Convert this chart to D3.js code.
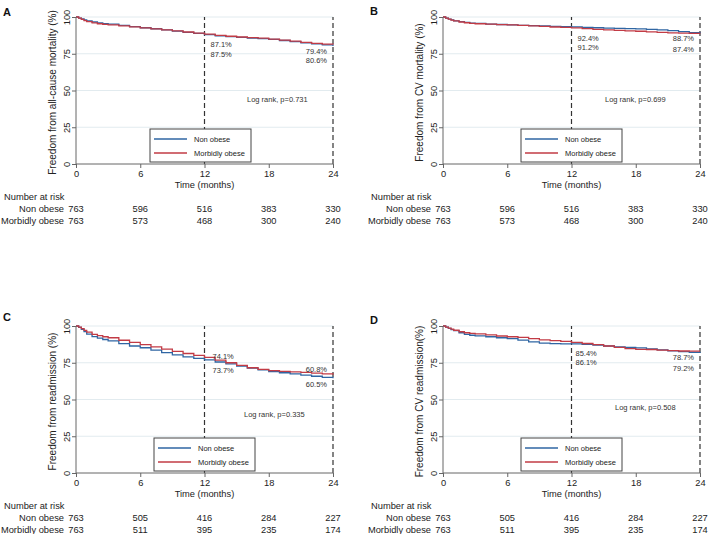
<!DOCTYPE html>
<html>
<head>
<meta charset="utf-8">
<script src="https://cdn.jsdelivr.net/npm/d3@7"></script>
<style>
  body { margin: 0; background: #fff; }
  svg { display: block; font-family: "Liberation Sans", Arial, sans-serif; }
  .axis path, .axis line { stroke: #666; }
  .axis text { fill: #222; font-size: 9.3px; }
</style>
</head>
<body>
<svg id="fig" width="709" height="534"></svg>
<script>
// time grid (months) shared by all curves
const times = [0, 0.25, 0.5, 0.75, 1, 1.5, 2, 2.5, 3, 4, 5, 6, 7, 8, 9, 10, 11, 12,
  13, 14, 15, 16, 17, 18, 19, 20, 21, 22, 23, 24];

// survival (%) per panel
const allCauseNonObese = [100, 99.3, 98.7, 98.0, 97.4, 96.6, 96.0, 95.5, 95.1, 94.3, 93.5, 92.7, 92.0, 91.2, 90.4,
  89.6, 88.8, 88.0, 87.2, 86.6, 86.1, 85.7, 85.3, 84.8, 84.0, 83.3, 82.5, 81.7, 81.0, 80.3];
const allCauseMorbid = [100, 99.2, 98.4, 97.6, 96.9, 96.0, 95.4, 95.0, 94.6, 93.9, 93.3, 92.6, 91.9, 91.2, 90.5,
  89.8, 89.0, 88.3, 87.5, 86.9, 86.4, 86.0, 85.6, 85.0, 84.3, 83.6, 82.8, 82.1, 81.5, 81.2];
const cvMortNonObese = [100, 99.3, 98.6, 98.0, 97.4, 96.8, 96.3, 95.9, 95.6, 95.2, 94.9, 94.6, 94.3, 94.1, 93.9,
  93.6, 93.4, 93.3, 93.0, 92.7, 92.5, 92.3, 92.1, 91.9, 91.6, 91.3, 90.7, 90.0, 89.4, 88.9];
const cvMortMorbid = [100, 99.2, 98.5, 97.9, 97.3, 96.6, 96.1, 95.7, 95.4, 95.1, 94.8, 94.6, 94.3, 94.0, 93.6,
  93.2, 92.9, 92.6, 92.1, 91.6, 91.2, 90.9, 90.6, 90.3, 89.9, 89.5, 89.2, 89.0, 88.9, 88.7];
const readmNonObese = [100, 99.0, 97.8, 96.2, 94.5, 92.8, 91.8, 90.8, 89.9, 88.0, 86.4, 85.2, 83.6, 81.9, 80.3,
  79.0, 78.0, 76.9, 75.5, 74.2, 72.8, 71.4, 70.2, 69.0, 68.2, 67.4, 66.6, 65.8, 65.1, 64.4];
const readmMorbid = [100, 99.2, 98.2, 97.0, 95.8, 94.3, 93.5, 92.7, 92.0, 90.3, 88.8, 87.3, 85.8, 84.3, 82.8,
  81.3, 80.0, 78.6, 76.8, 75.0, 73.2, 71.6, 70.5, 69.6, 69.2, 68.8, 68.4, 67.9, 67.4, 66.9];
const cvReadmNonObese = [100, 99.2, 98.4, 97.6, 96.8, 95.4, 94.3, 93.7, 93.3, 92.7, 92.0, 91.4, 90.4, 89.2, 88.4,
  88.0, 87.8, 87.8, 87.5, 87.0, 86.4, 85.8, 85.4, 85.1, 84.4, 83.7, 83.1, 82.6, 82.1, 81.6];
const cvReadmMorbid = [100, 99.3, 98.6, 97.9, 97.1, 96.1, 95.4, 95.0, 94.6, 93.9, 93.2, 92.7, 92.2, 91.4, 90.6,
  90.1, 89.5, 88.9, 88.1, 87.3, 86.4, 85.4, 84.6, 84.1, 84.0, 83.6, 83.2, 83.0, 82.9, 82.9];

// number at risk
const riskTimes = [0, 6, 12, 18, 24];
const riskNonObeseMort = [763, 596, 516, 383, 330];
const riskMorbidMort = [763, 573, 468, 300, 240];
const riskNonObeseReadm = [763, 505, 416, 284, 227];
const riskMorbidReadm = [763, 511, 395, 235, 174];

const groupNames = ["Non obese", "Morbidly obese"];
const xTicks = [0, 6, 12, 18, 24];
const yTicks = [0, 25, 50, 75, 100];

// percentage labels at 12 and 24 months, log rank text
const pct12 = [["87.1%", "87.5%"], ["92.4%", "91.2%"], ["74.1%", "73.7%"], ["85.4%", "86.1%"]];
const pct24 = [["79.4%", "80.6%"], ["88.7%", "87.4%"], ["60.8%", "60.5%"], ["78.7%", "79.2%"]];
const logRank = ["Log rank, p=0.731", "Log rank, p=0.699", "Log rank, p=0.335", "Log rank, p=0.508"];
const yTitles = ["Freedom from all-cause mortality (%)", "Freedom from CV mortality (%)",
  "Freedom from readmission (%)", "Freedom from CV readmission(%)"];
const letters = ["A", "B", "C", "D"];

const blue = "#2f66a3", red = "#c23b45";

const panels = [
  { x0: 76, top: 17, series: [allCauseNonObese, allCauseMorbid], risk: [riskNonObeseMort, riskMorbidMort],
    lx: 3, ly: 16, d12: 6, p12y: [47, 57], p24y: [54, 63], lr: [247, 102] },
  { x0: 443, top: 17, series: [cvMortNonObese, cvMortMorbid], risk: [riskNonObeseMort, riskMorbidMort],
    lx: 370, ly: 15, d12: 6, p12y: [41, 50], p24y: [41, 52], lr: [605, 102] },
  { x0: 76, top: 326, series: [readmNonObese, readmMorbid], risk: [riskNonObeseReadm, riskMorbidReadm],
    lx: 3, ly: 321, d12: 8, p12y: [359, 373], p24y: [372, 387], lr: [244, 417] },
  { x0: 443, top: 326, series: [cvReadmNonObese, cvReadmMorbid], risk: [riskNonObeseReadm, riskMorbidReadm],
    lx: 370, ly: 324, d12: 4, p12y: [356, 365], p24y: [360, 371], lr: [615, 410] }
];

const W = 257, H = 147;
const svg = d3.select("#fig");

panels.forEach((p, i) => {
  const g = svg.append("g").attr("transform", `translate(${p.x0},${p.top})`);
  const x = d3.scaleLinear().domain([0, 24]).range([0, W]);
  const y = d3.scaleLinear().domain([0, 100]).range([H, 0]);

  // grid
  g.selectAll(".grid").data([25, 50, 75, 100]).join("line")
    .attr("x1", 0).attr("x2", W)
    .attr("y1", d => y(d)).attr("y2", d => y(d))
    .attr("stroke", "#e2ebef").attr("stroke-width", 1);

  // dashed reference lines
  g.selectAll(".ref").data([12, 24]).join("line")
    .attr("x1", d => x(d)).attr("x2", d => x(d))
    .attr("y1", y(0)).attr("y2", y(100))
    .attr("stroke", "#333").attr("stroke-width", 1.2)
    .attr("stroke-dasharray", "5,3");

  // curves
  const line = d3.line().curve(d3.curveStepAfter)
    .x((d, k) => x(times[k])).y(d => y(d));
  [blue, red].forEach((c, k) => {
    g.append("path").datum(p.series[k])
      .attr("fill", "none").attr("stroke", c).attr("stroke-width", 1.3)
      .attr("d", line);
  });

  // axes
  g.append("g").attr("class", "axis").attr("transform", `translate(0,${H})`)
    .call(d3.axisBottom(x).tickValues(xTicks).tickSize(4).tickPadding(2))
    .call(a => a.select(".domain").attr("d", `M0,0H${W}`));
  g.append("g").attr("class", "axis")
    .call(d3.axisLeft(y).tickValues(yTicks).tickSize(4).tickPadding(2))
    .call(a => a.select(".domain").attr("d", `M0,0V${H}`))
    .selectAll("text")
    .attr("transform", "rotate(-90)")
    .attr("x", 0).attr("y", -6).attr("dy", 0)
    .style("text-anchor", "middle");

  // titles
  g.append("text").attr("x", W / 2).attr("y", H + 23.5)
    .attr("text-anchor", "middle").attr("font-size", 9.3).attr("fill", "#222")
    .text("Time (months)");
  g.append("text").attr("transform", `translate(-20,${H / 2 + 2}) rotate(-90)`)
    .attr("text-anchor", "middle").attr("font-size", 10).attr("fill", "#222")
    .text(yTitles[i]);

  svg.append("text").attr("x", p.lx).attr("y", p.ly)
    .attr("font-size", 11).attr("font-weight", "bold").attr("fill", "#111")
    .text(letters[i]);

  // percentages
  pct12[i].forEach((t, k) => {
    svg.append("text").attr("x", p.x0 + x(12) + p.d12).attr("y", p.p12y[k])
      .attr("font-size", 7.5).attr("fill", "#333").text(t);
  });
  pct24[i].forEach((t, k) => {
    svg.append("text").attr("x", p.x0 + x(24) - 6).attr("y", p.p24y[k])
      .attr("text-anchor", "end").attr("font-size", 7.5).attr("fill", "#333").text(t);
  });
  svg.append("text").attr("x", p.lr[0]).attr("y", p.lr[1])
    .attr("font-size", 7.5).attr("fill", "#333").text(logRank[i]);

  // legend
  const lg = g.append("g").attr("transform", `translate(${i === 0 ? 74 : 78},112)`);
  lg.append("rect").attr("width", 101).attr("height", 33)
    .attr("fill", "#fff").attr("stroke", "#444").attr("stroke-width", 1);
  [blue, red].forEach((c, k) => {
    lg.append("line").attr("x1", 4).attr("x2", 37)
      .attr("y1", 10 + k * 14).attr("y2", 10 + k * 14)
      .attr("stroke", c).attr("stroke-width", 1.3);
    lg.append("text").attr("x", 44).attr("y", 12.7 + k * 14)
      .attr("font-size", 7.5).attr("fill", "#222").text(groupNames[k]);
  });

  // number at risk
  const rt = g.append("g").attr("transform", `translate(0,${H})`);
  rt.append("text").attr("x", -72).attr("y", 36)
    .attr("font-size", 9.3).attr("fill", "#222").text("Number at risk");
  groupNames.forEach((n, k) => {
    rt.append("text").attr("x", -12).attr("y", 47.8 + k * 11.7)
      .attr("text-anchor", "end").attr("font-size", 9.3).attr("fill", "#222").text(n);
    rt.selectAll(null).data(p.risk[k]).join("text")
      .attr("x", (d, j) => x(riskTimes[j])).attr("y", 47.8 + k * 11.7)
      .attr("text-anchor", "middle").attr("font-size", 9.3).attr("fill", "#222")
      .text(d => d);
  });
});
</script>
</body>
</html>
